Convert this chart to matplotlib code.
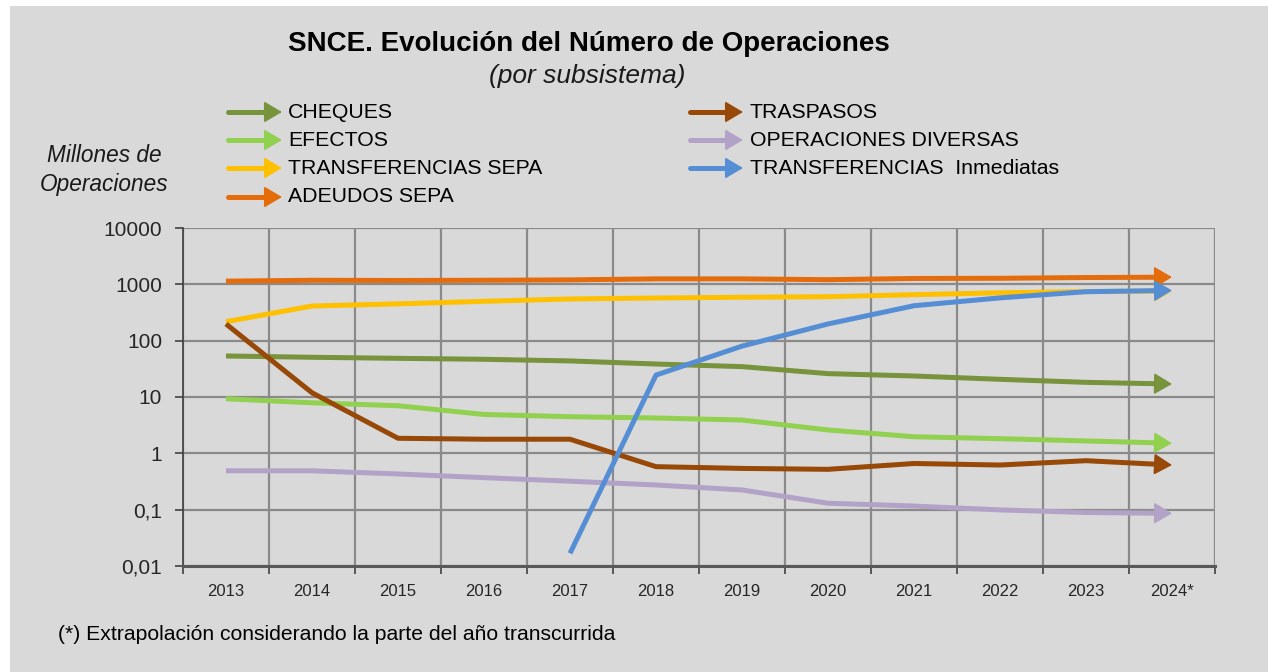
import numpy as np
import matplotlib
matplotlib.use("Agg")
import matplotlib.pyplot as plt
from matplotlib.patches import Rectangle, FancyArrowPatch
from matplotlib.lines import Line2D

years = ["2013", "2014", "2015", "2016", "2017", "2018", "2019", "2020",
         "2021", "2022", "2023", "2024*"]

cheques = [53.5, 50.7, 48.6, 46.7, 43.7, 38.5, 34.6, 26.0, 23.6, 20.6, 18.2, 17.0]
efectos = [9.3, 7.9, 7.0, 4.9, 4.47, 4.24, 3.9, 2.6, 1.97, 1.82, 1.66, 1.51]
transf_sepa = [217, 412, 450, 500, 550, 572, 590, 603, 655, 708, 745, 760]
adeudos = [1140, 1180, 1170, 1180, 1200, 1250, 1250, 1210, 1270, 1280, 1320, 1340]
traspasos = [198, 11.9, 1.85, 1.78, 1.78, 0.58, 0.54, 0.52, 0.66, 0.62, 0.74, 0.62]
op_diversas = [0.49, 0.49, 0.43, 0.37, 0.32, 0.274, 0.224, 0.13, 0.116, 0.099, 0.089, 0.086]
inmediatas = [None, None, None, None, 0.0168, 24.5, 80, 198, 417, 575, 740, 780]

yticks = [0.01, 0.1, 1, 10, 100, 1000, 10000]
ytick_labels = ["0,01", "0,1", "1", "10", "100", "1000", "10000"]

series = [
    ("CHEQUES", cheques, "#77933C"),
    ("EFECTOS", efectos, "#92D050"),
    ("TRANSFERENCIAS SEPA", transf_sepa, "#FFC000"),
    ("ADEUDOS SEPA", adeudos, "#E46C0A"),
    ("TRASPASOS", traspasos, "#984807"),
    ("OPERACIONES DIVERSAS", op_diversas, "#B3A2C7"),
    ("TRANSFERENCIAS  Inmediatas", inmediatas, "#558ED5"),
]
draw_order = [3, 2, 0, 1, 4, 5, 6]

plt.rcParams['font.family'] = ['Liberation Sans', 'DejaVu Sans']

W, H = 1268, 672
fig = plt.figure(figsize=(W / 100, H / 100), dpi=100)
fig.patch.set_facecolor("white")
bg = "#D9D9D9"
fig.patches.append(Rectangle((10 / W, 0), 1 - 10 / W, 1 - 6 / H,
                             transform=fig.transFigure, facecolor=bg,
                             edgecolor="none", zorder=-10))

def fx(px):
    return px / W

def fy(py):
    return 1 - py / H

ax = fig.add_axes([fx(183), fy(566), fx(1215) - fx(183), fy(228) - fy(566)])
ax.set_facecolor(bg)
ax.set_yscale("log")
ax.set_ylim(0.01, 10000)
ax.set_xlim(-0.5, len(years) - 0.5)

HEAD = "-|>,head_length=1.15,head_width=0.68"
MS = 10
x = np.arange(len(years))
lw = 3.6
for i in draw_order:
    name, vals, col = series[i]
    xs = [xi for xi, v in zip(x, vals) if v is not None]
    vs = [v for v in vals if v is not None]
    x1, v1 = xs[-1], vs[-1]
    x0, v0 = xs[-2], vs[-2]
    t = 0.15
    xa = x1 - t * (x1 - x0)
    va = 10 ** (np.log10(v1) - t * (np.log10(v1) - np.log10(v0)))
    ax.plot(xs[:-1] + [xa], vs[:-1] + [va], color=col, lw=lw,
            solid_capstyle="butt", solid_joinstyle="round", zorder=3)
    ax.annotate("", xy=(x1, v1), xytext=(xa, va),
                arrowprops=dict(arrowstyle=HEAD, color=col, lw=1,
                                mutation_scale=MS, shrinkA=0, shrinkB=0,
                                joinstyle="miter"),
                zorder=4)

# grid & ticks
ax.set_yticks(yticks)
ax.set_yticklabels(ytick_labels)
ax.yaxis.set_minor_locator(matplotlib.ticker.NullLocator())
ax.set_xticks(np.arange(len(years) + 1) - 0.5)
ax.set_xticklabels([])
ax.set_xticks(x, minor=True)
ax.set_xticklabels(years, minor=True)
ax.tick_params(axis="x", which="major", length=6, width=1.2, color="#404040")
ax.tick_params(axis="x", which="minor", length=0, pad=13, labelsize=12,
               labelcolor="#262626")
ax.tick_params(axis="y", which="major", length=6, width=1.2, color="#404040",
               pad=9, labelsize=15, labelcolor="#262626")
ax.grid(True, which="major", color="#8A8A8A", lw=1.6, zorder=1)
ax.set_axisbelow(True)
for s in ["top", "right"]:
    ax.spines[s].set_visible(False)
ax.spines["left"].set_color("#404040")
ax.spines["left"].set_linewidth(1.2)
ax.spines["bottom"].set_color("#595959")
ax.spines["bottom"].set_linewidth(2.2)
ax.spines["bottom"].set_zorder(5)

# titles
fig.text(fx(589), fy(44), "SNCE. Evolución del Número de Operaciones",
         ha="center", va="center", fontsize=20, fontweight="bold", color="black")
fig.text(fx(587), fy(76), "(por subsistema)", ha="center", va="center",
         fontsize=19, style="italic", color="#1a1a1a")
fig.text(fx(104), fy(170), "Millones de\nOperaciones", ha="center", va="center",
         fontsize=16.3, style="italic", color="#1a1a1a", linespacing=1.3)

# legend
left_rows = [112, 140, 168, 197]
right_rows = [112, 140, 168]
positions = []
for r in left_rows:
    positions.append((228, 282, 288, r))
for r in right_rows:
    positions.append((690, 743, 750, r))
for (name, vals, col), (xa0, xa1, xt, yr) in zip(series, positions):
    fig.add_artist(Line2D([fx(xa0), fx(xa1 - 12)], [fy(yr), fy(yr)],
                          transform=fig.transFigure, color=col, lw=lw,
                          solid_capstyle="round"))
    fig.add_artist(FancyArrowPatch(
        (fx(xa1 - 12), fy(yr)), (fx(xa1), fy(yr)), transform=fig.transFigure,
        arrowstyle=HEAD, color=col, lw=1, mutation_scale=MS,
        shrinkA=0, shrinkB=0, joinstyle="miter"))
    fig.text(fx(xt), fy(yr), name, ha="left", va="center", fontsize=15.3,
             color="black")

fig.text(fx(58), fy(635), "(*) Extrapolación considerando la parte del año transcurrida",
         ha="left", va="center", fontsize=15.2, color="black")

fig.savefig("out.png", dpi=100, facecolor=fig.get_facecolor())
